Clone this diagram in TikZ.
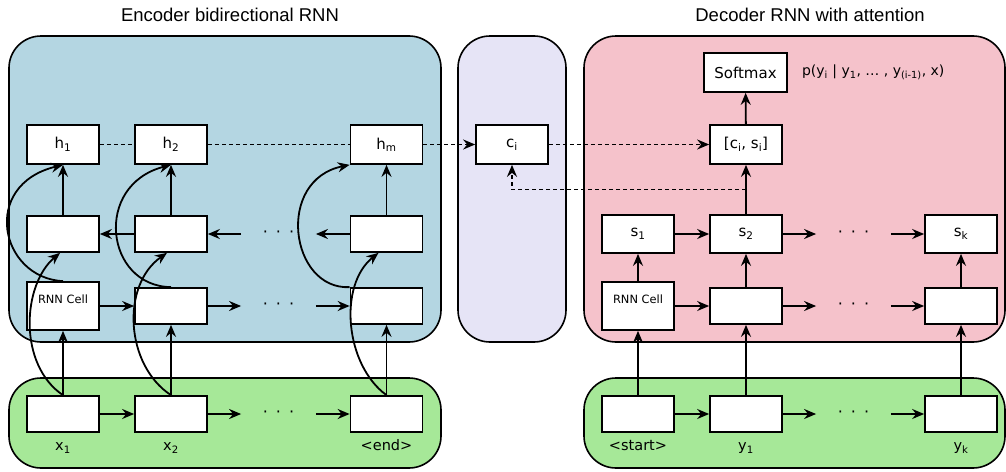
\documentclass[tikz,border=0pt]{standalone}
\usepackage{fontspec}
\setmainfont{DejaVu Sans}
\newfontfamily\headfont{Liberation Sans}
\usetikzlibrary{arrows.meta,positioning,calc}
\definecolor{encblue}{RGB}{180,214,226}
\definecolor{attlilac}{RGB}{230,228,246}
\definecolor{decpink}{RGB}{245,194,203}
\definecolor{inpgreen}{RGB}{166,232,152}
\tikzset{
  cell/.style={draw,fill=white,line width=1.7pt,minimum width=72pt,minimum height=36pt,inner sep=0pt,font=\fontsize{15}{18}\selectfont},
  tall/.style={cell,minimum height=39pt},
  rnncell/.style={cell,minimum height=48pt,text height=21pt,text depth=27pt,font=\fontsize{11.4}{13}\selectfont},
  panel/.style={draw,line width=1.6pt,rounded corners=32pt},
  dots/.style={minimum width=73pt,inner sep=0pt,font=\fontsize{16}{18}\selectfont},
  lbl/.style={font=\fontsize{14.5}{17}\selectfont,anchor=base},
  head/.style={font=\headfont\fontsize{18.5}{22}\selectfont},
  dotline/.style={dash pattern=on 4pt off 3pt},
}
\begin{document}
\begin{tikzpicture}[x=1pt,y=-1pt,line width=1.8pt,>={Stealth[length=12pt,width=10pt,inset=4pt]}]
\useasboundingbox (0,0) rectangle (1006,471);
\draw[panel,fill=encblue] (9,36) rectangle (441,342);
\draw[panel,fill=inpgreen] (9,378) rectangle (441,468);
\draw[panel,fill=attlilac] (458,36) rectangle (566,342);
\draw[panel,fill=decpink] (584,36) rectangle (1005,342);
\draw[panel,fill=inpgreen] (584,378) rectangle (1005,468);
\node[head] (enctitle) at (230,15) {Encoder bidirectional RNN};
\node[head] (dectitle) at (810,15) {Decoder RNN with attention};

\node[tall] (h1) at (63,144.5) {h\textsubscript{1}};
\node[tall] (h2) at (171,144.5) {h\textsubscript{2}};
\node[tall] (hm) at (386.5,144.5) {h\textsubscript{m}};
\node[cell] (b1) at (63,234) {};
\node[cell] (b2) at (171,234) {};
\node[dots] (bdots) at (278.5,234) {·\hspace{8pt}·\hspace{8pt}·};
\node[cell] (bm) at (386.5,234) {};
\node[rnncell] (f1) at (63,306) {RNN Cell};
\node[cell] (f2) at (171,306) {};
\node[dots] (fdots) at (278.5,306) {·\hspace{8pt}·\hspace{8pt}·};
\node[cell] (fm) at (386.5,306) {};
\node[cell] (x1) at (63,414) {};
\node[cell] (x2) at (171,414) {};
\node[dots] (xdots) at (278.5,414) {·\hspace{8pt}·\hspace{8pt}·};
\node[cell] (xm) at (386.5,414) {};
\node[lbl,below=18pt of x1,anchor=base] (lx1) {x\textsubscript{1}};
\node[lbl,below=18pt of x2,anchor=base] (lx2) {x\textsubscript{2}};
\node[lbl,below=18pt of xm,anchor=base] (lxm) {<end>};

\node[tall] (ci) at (512,144.5) {c\textsubscript{i}};

\node[cell,minimum width=83pt,minimum height=39pt] (soft) at (745.5,72.5) {Softmax};
\node[font=\fontsize{14}{17}\selectfont,right=10pt of soft] (prob) {p(y\textsubscript{i} | y\textsubscript{1}, … , y\textsubscript{(i-1)}, x)};
\node[tall] (cat) at (746,144.5) {[c\textsubscript{i}, s\textsubscript{i}]};
\node[cell,minimum height=38pt] (s1) at (638,234) {s\textsubscript{1}};
\node[cell,minimum height=38pt] (s2) at (746,234) {s\textsubscript{2}};
\node[dots] (sdots) at (853.5,234) {·\hspace{8pt}·\hspace{8pt}·};
\node[cell,minimum height=38pt] (sk) at (961,234) {s\textsubscript{k}};
\node[rnncell] (g1) at (638,306) {RNN Cell};
\node[cell] (g2) at (746,306) {};
\node[dots] (gdots) at (853.5,306) {·\hspace{8pt}·\hspace{8pt}·};
\node[cell] (gk) at (961,306) {};
\node[cell] (ys) at (638,414) {};
\node[cell] (y1) at (746,414) {};
\node[dots] (ydots) at (853.5,414) {·\hspace{8pt}·\hspace{8pt}·};
\node[cell] (yk) at (961,414) {};
\node[lbl,below=18pt of ys,anchor=base] (lys) {<start>};
\node[lbl,below=18pt of y1,anchor=base] (ly1) {y\textsubscript{1}};
\node[lbl,below=18pt of yk,anchor=base] (lyk) {y\textsubscript{k}};

\draw[->] (x1) -- (x2);
\draw[->] (x2) -- (xdots);
\draw[->] (xdots) -- (xm);
\draw[->] (f1) -- (f2);
\draw[->] (f2) -- (fdots);
\draw[->] (fdots) -- (fm);
\draw[->] (b2) -- (b1);
\draw[->] (bdots) -- (b2);
\draw[->] (bm) -- (bdots);
\draw[->] (x1) -- (f1);
\draw[->] (x2) -- (f2);
\draw[->] (xm) -- (fm);
\draw[->] (b1) -- (h1);
\draw[->] (b2) -- (h2);
\draw[->] (bm) -- (hm);
\draw[->] (f1.north) .. controls (0,278) and (-20,185) .. (h1.south);
\draw[->] (f2.north) .. controls (105,286) and (93,185) .. (h2.south);
\draw[->] (fm.north west) .. controls (290,290) and (275,180) .. (hm.south west);
\draw[->] (x1.north) .. controls (18,365) and (22,285) .. ([xshift=-3pt]b1.south);
\draw[->] (x2.north) .. controls (125,365) and (121,285) .. ([xshift=-4pt]b2.south);
\draw[->] (xm.north) .. controls (345,365) and (338,285) .. ([xshift=-8pt]bm.south);
\draw[dotline] (h1) -- (h2);
\draw[dotline] (h2) -- (hm);
\draw[dotline,->] (hm) -- (ci);
\draw[dotline,->] (ci) -- (cat);
\draw[dotline,->] ($(s2.north)!.5!(cat.south)$) -| (ci.south);

\draw[->] (ys) -- (y1);
\draw[->] (y1) -- (ydots);
\draw[->] (ydots) -- (yk);
\draw[->] (g1) -- (g2);
\draw[->] (g2) -- (gdots);
\draw[->] (gdots) -- (gk);
\draw[->] (s1) -- (s2);
\draw[->] (s2) -- (sdots);
\draw[->] (sdots) -- (sk);
\draw[->] (ys) -- (g1);
\draw[->] (y1) -- (g2);
\draw[->] (yk) -- (gk);
\draw[->] (g1) -- (s1);
\draw[->] (g2) -- (s2);
\draw[->] (gk) -- (sk);
\draw[->] (s2) -- (cat);
\draw[->] (cat) -- (soft);
\end{tikzpicture}
\end{document}
